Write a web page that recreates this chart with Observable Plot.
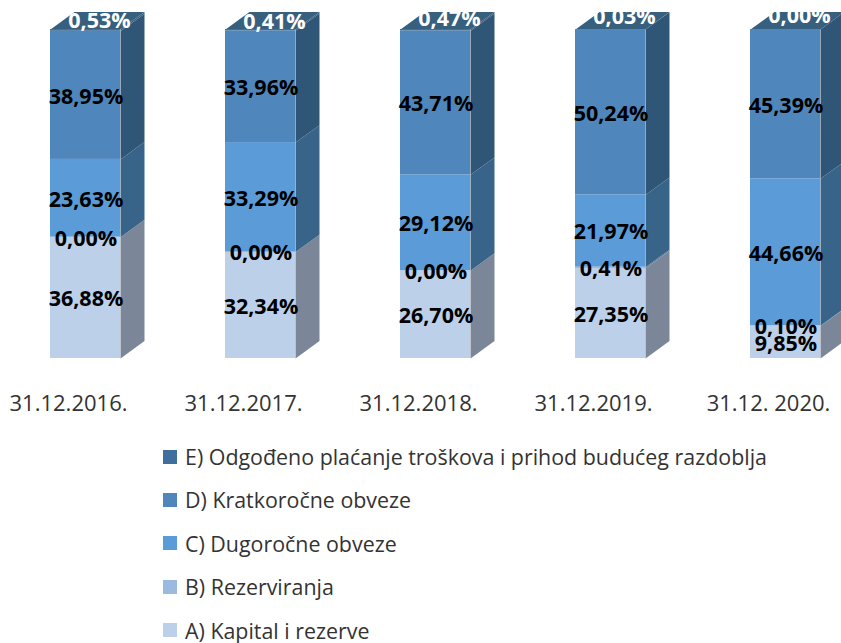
<!DOCTYPE html>
<html><head><meta charset="utf-8">
<script src="https://cdn.jsdelivr.net/npm/d3@7"></script>
<script src="https://cdn.jsdelivr.net/npm/@observablehq/plot@0.6"></script>
<style>
html,body{margin:0;padding:0;background:#fff;width:841px;height:643px;overflow:hidden}
#legend{font:21.4px/1 "Open Sans",sans-serif;color:#333;margin:0;padding:0 0 0 163px}
#legend div{height:43.4px;display:flex;align-items:center;white-space:nowrap}
#legend i{display:block;width:14px;height:14px;margin-right:8px}
svg{display:block}
</style></head><body><div id="chart"></div><div id="legend"></div>
<script>
const dates = ["31.12.2016.", "31.12.2017.", "31.12.2018.", "31.12.2019.", "31.12. 2020."];
const seriesNames = ["A) Kapital i rezerve", "B) Rezerviranja", "C) Dugoročne obveze", "D) Kratkoročne obveze", "E) Odgođeno plaćanje troškova i prihod budućeg razdoblja"];
const kapital = [36.88, 32.34, 26.70, 27.35, 9.85];
const rezerviranja = [0.00, 0.00, 0.00, 0.41, 0.10];
const dugorocne = [23.63, 33.29, 29.12, 21.97, 44.66];
const kratkorocne = [38.95, 33.96, 43.71, 50.24, 45.39];
const odgodeno = [0.53, 0.41, 0.47, 0.03, 0.00];
const frontColors = ["#bdd0ea", "#9abade", "#5b9bd8", "#4f87bd", "#3f6f9c"];
const sideColors = ["#7b8798", "#62798f", "#386489", "#2f5677", "#37607f"];

const all = [kapital, rezerviranja, dugorocne, kratkorocne, odgodeno];
const W = 0.4, DX = 24 / 175, DY = 5.3;
const rows = [];
dates.forEach((d, i) => {
  let base = 0;
  all.forEach((s, k) => {
    rows.push({i, k, lo: base, hi: base + s[i], v: s[i]});
    base += s[i];
  });
});
const faces = [];
rows.filter(r => r.v > 0).forEach(r => {
  const id = r.i + "-" + r.k, x = r.i + W;
  [[x, r.lo], [x + DX, r.lo + DY], [x + DX, r.hi + DY], [x, r.hi]].forEach(([px, py]) =>
    faces.push({id, x: px, y: py, c: sideColors[r.k]}));
});
dates.forEach((d, i) => {
  const id = "top" + i, top = 100;
  [[i, top], [i + W, top], [i + W + DX, top + DY], [i + DX, top + DY]].forEach(([px, py]) =>
    faces.push({id, x: px, y: py, c: sideColors[4]}));
});
const fmt = v => v.toFixed(2).replace(".", ",") + "%";
const topDy = [-9, -8, -11, -12, -13];
const topMarks = dates.map((d, i) => Plot.text(rows.filter(r => r.k === 4 && r.i === i), {
  x: r => r.i + W / 2, y: r => (r.lo + r.hi) / 2, text: r => fmt(r.v),
  fill: "#fff", fontWeight: 700, fontSize: 21.5, dx: 14, dy: topDy[i], fontFamily: "Open Sans"
}));

const chart = Plot.plot({
  width: 841, height: 435, marginLeft: 0, marginRight: 0, marginTop: 0, marginBottom: 0,
  x: {domain: [-50 / 175, 791 / 175], range: [0, 841], axis: null},
  y: {domain: [0, 100], range: [358, 29], axis: null},
  marks: [
    Plot.line(faces, {x: "x", y: "y", z: "id", fill: "c", stroke: null, curve: "linear-closed"}),
    Plot.rect(rows.filter(r => r.v > 0), {x1: r => r.i, x2: r => r.i + W, y1: "lo", y2: "hi", fill: r => frontColors[r.k], inset: 0}),
    Plot.text(rows.filter(r => r.k < 4), {x: r => r.i + W / 2, y: r => (r.lo + r.hi) / 2, text: r => fmt(r.v), fontWeight: 700, fontSize: 21.5, dx: 0.5, dy: 1.5, fill: "#000", fontFamily: "Open Sans"}),
    ...topMarks,
    Plot.text(dates, {x: (d, i) => i + W / 2, y: 0, text: d => d, fontSize: 22, dx: -17, dy: 45, fill: "#333", fontFamily: "Open Sans"})
  ]
});
document.getElementById("chart").append(chart);
const legend = document.getElementById("legend");
seriesNames.map((n, k) => ({n, c: frontColors[k]})).reverse().forEach(e => {
  const row = document.createElement("div");
  const sw = document.createElement("i");
  sw.style.background = e.c;
  const t = document.createElement("span");
  t.textContent = e.n;
  row.append(sw, t);
  legend.append(row);
});
</script></body></html>
